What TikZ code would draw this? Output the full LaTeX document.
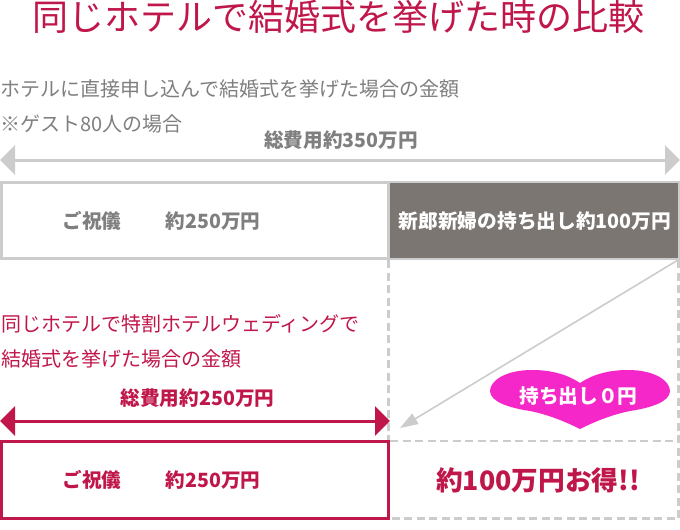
\documentclass[tikz,border=0pt]{standalone}
\usepackage{fontspec}
\setmainfont{Noto Sans CJK JP}
\usetikzlibrary{arrows.meta}
\definecolor{cr}{HTML}{C0174A}
\definecolor{gr}{HTML}{CCCCCC}
\definecolor{tx}{HTML}{7F7F7F}
\definecolor{dk}{HTML}{7C7673}
\definecolor{mg}{HTML}{F527C9}
\tikzset{x=1pt,y=-1pt,
 lbl/.style={inner sep=0,anchor=west,text=tx,font=\fontsize{20}{20}\selectfont},
 blbl/.style={inner sep=0,font=\fontsize{19.6}{20}\selectfont\bfseries,text=tx},
 dbl/.style={line width=3pt,{Triangle[length=15pt,width=29pt]}-{Triangle[length=15pt,width=29pt]}},
 dsh/.style={gr,line width=2.7pt,dash pattern=on 8pt off 4.5pt}}
\begin{document}
\begin{tikzpicture}
\useasboundingbox (0,0) rectangle (680,530);
\node[inner sep=0,text=cr,font=\fontsize{36}{36}\selectfont] (title) at (338,17) {同じホテルで結婚式を挙げた時の比較};
\node[lbl] (t1) at (0,89) {ホテルに直接申し込んで結婚式を挙げた場合の金額};
\node[lbl] (t2) at (0,124) {※ゲスト80人の場合};
\node[blbl] (t3) at (341,140) {総費用約350万円};
\coordinate (a1) at (0,160); \coordinate (a2) at (680,160);
\draw[dbl,gr] (a1) -- (a2);
\draw[gr,line width=3pt] (1.5,182) rectangle (388.5,258);
\fill[gr] (388,181) rectangle (680,260);
\fill[dk] (390,183) rectangle (678,258);
\node[blbl] (a) at (92,221) {ご祝儀};
\node[blbl] (b) at (213,221) {約250万円};
\node[inner sep=0,text=white,font=\fontsize{19.7}{20}\selectfont\bfseries] (c) at (535,221) {新郎新婦の持ち出し約100万円};
\draw[dsh] (388.5,260) -- (388.5,440);
\draw[dsh] (678.5,260) -- (678.5,518.5) -- (390,518.5);
\draw[dsh] (390,441) -- (680,441);
\coordinate (d1) at (678,260); \coordinate (d2) at (400,428);
\draw[gr,line width=1.6pt,-{Triangle[length=18pt,width=12pt]}] (d1) -- (d2);
\node[lbl,text=cr] (p1) at (1,324) {同じホテルで特割ホテルウェディングで};
\node[lbl,text=cr] (p2) at (1,359) {結婚式を挙げた場合の金額};
\node[blbl,text=cr] (p3) at (197.5,398) {総費用約250万円};
\coordinate (e1) at (0,421); \coordinate (e2) at (390,421);
\draw[dbl,cr] (e1) -- (e2);
\draw[cr,line width=3pt] (1.5,441.5) rectangle (388.5,518);
\node[blbl,text=cr] (f) at (92,480) {ご祝儀};
\node[blbl,text=cr] (g) at (213,480) {約250万円};
\node[inner sep=0,text=cr,font=\fontsize{26.7}{27}\selectfont\bfseries] (h) at (538,480) {約100万円お得!!};
\fill[mg] (580,383) .. controls (565,373) and (548,370) .. (532,370) .. controls (505,370) and (490,381) .. (490,391) .. controls (490,402) and (510,408) .. (530,411) .. controls (550,415) and (568,423) .. (580,429) .. controls (592,423) and (610,415) .. (630,411) .. controls (650,408) and (670,402) .. (670,391) .. controls (670,381) and (655,370) .. (628,370) .. controls (612,370) and (595,373) .. (580,383) -- cycle;
\node[inner sep=0,text=white,font=\fontsize{19.7}{20}\selectfont\bfseries] (i) at (578.5,396) {持ち出し０円};
\end{tikzpicture}
\end{document}
